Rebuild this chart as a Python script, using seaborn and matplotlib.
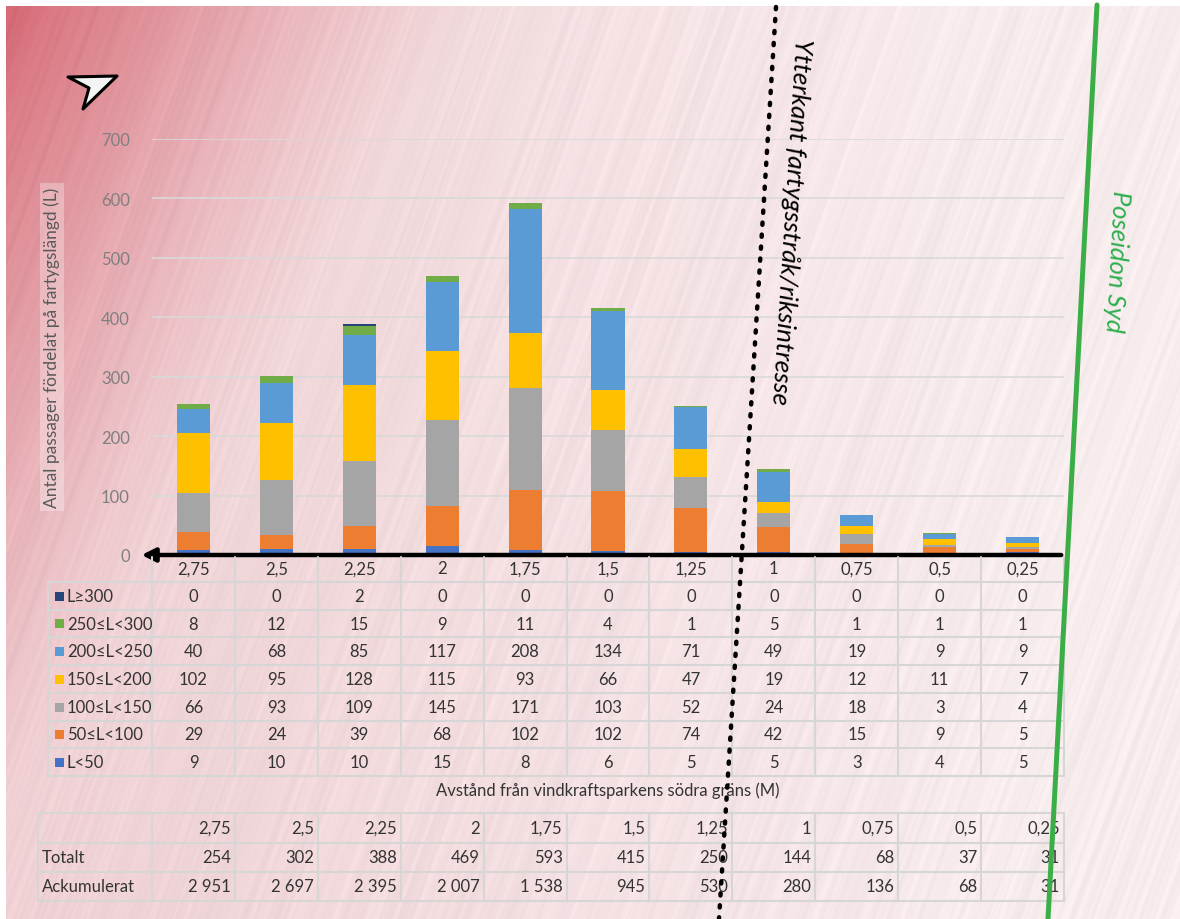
import numpy as np
import matplotlib
matplotlib.use("Agg")
import matplotlib.pyplot as plt
import matplotlib.transforms as mtransforms
from matplotlib.lines import Line2D
from matplotlib.patches import Polygon, Rectangle
import seaborn as sns

W, H = 1180, 920

distances = ["2,75", "2,5", "2,25", "2", "1,75", "1,5", "1,25", "1", "0,75", "0,5", "0,25"]
classes = ["L≥300", "250≤L<300", "200≤L<250", "150≤L<200", "100≤L<150", "50≤L<100", "L<50"]
l_ge300 = [0, 0, 2, 0, 0, 0, 0, 0, 0, 0, 0]
l_250_300 = [8, 12, 15, 9, 11, 4, 1, 5, 1, 1, 1]
l_200_250 = [40, 68, 85, 117, 208, 134, 71, 49, 19, 9, 9]
l_150_200 = [102, 95, 128, 115, 93, 66, 47, 19, 12, 11, 7]
l_100_150 = [66, 93, 109, 145, 171, 103, 52, 24, 18, 3, 4]
l_50_100 = [29, 24, 39, 68, 102, 102, 74, 42, 15, 9, 5]
l_lt50 = [9, 10, 10, 15, 8, 6, 5, 5, 3, 4, 5]
totals = [254, 302, 388, 469, 593, 415, 250, 144, 68, 37, 31]
cumulative = [2951, 2697, 2395, 2007, 1538, 945, 530, 280, 136, 68, 31]
yticks = [0, 100, 200, 300, 400, 500, 600, 700]

series = [l_ge300, l_250_300, l_200_250, l_150_200, l_100_150, l_50_100, l_lt50]
colors = ["#264478", "#70AD47", "#5B9BD5", "#FFC000", "#A5A5A5", "#ED7D31", "#4472C4"]

sns.set_theme(style="white")
plt.rcParams["font.family"] = ["Lato", "DejaVu Sans"]

fig = plt.figure(figsize=(W / 100, H / 100), dpi=100)


def px(x, y):
    return x / W, 1 - y / H


# background: pink map wash, red towards the top-left corner, with faint streaks
bg = fig.add_axes([0, 0, 1, 1], zorder=-10)
yy, xx = np.mgrid[0:1:H * 1j, 0:1:W * 1j]
white = np.array([249, 241, 241]) / 255
pink = np.array([239, 206, 210]) / 255
red = np.array([214, 104, 116]) / 255
a = np.clip(1 - xx * 1.15, 0, 1) * 0.8 + 0.12
w = np.clip(1 - (xx + 0.45 * yy) / 0.42, 0, 1) ** 1.3
img = white * (1 - a[..., None]) + pink * a[..., None]
img = img * (1 - w[..., None]) + red * w[..., None]
rng = np.random.default_rng(7)
s = (xx * W + 0.36 * yy * H).astype(int)
streak = np.convolve(rng.normal(0, 1, s.max() + 8), np.ones(4) / 2, mode="same")
tex = np.clip(streak[s], -2.5, 2.5) * 0.009
img = np.clip(img + tex[..., None], 0, 1)
img[:7, :, :] = 1
img[:, :6, :] = 1
bg.imshow(img, aspect="auto", extent=[0, 1, 0, 1], origin="upper", interpolation="bilinear")
bg.axis("off")

ax = fig.add_axes([152 / W, 1 - 556 / H, (1064 - 152) / W, (556 - 140) / H])
ax.patch.set_alpha(0)

bottom = np.zeros(len(distances))
for name, vals, col in reversed(list(zip(classes, series, colors))):
    sns.barplot(x=distances, y=vals, order=distances, color=col, saturation=1,
                width=0.4, bottom=bottom, errorbar=None, linewidth=0, ax=ax)
    bottom = bottom + np.array(vals)

ax.set_xlim(-0.5, len(distances) - 0.5)
ax.set_ylim(0, 700)
ax.set_yticks(yticks)
ax.set_yticklabels([str(t) for t in yticks], color="#7f7f7f", fontsize=12)
ax.tick_params(axis="y", length=0, pad=16)
ax.set_xticks([])
ax.set_xlabel("")
ax.set_ylabel("")
ax.yaxis.grid(True, color="#d9d9d9", lw=1.2)
ax.set_axisbelow(True)
for sp in ax.spines.values():
    sp.set_visible(False)

# x axis line with arrow pointing left
ax.annotate("", xy=(-0.66, 0), xytext=(len(distances) - 0.5, 0),
            arrowprops=dict(arrowstyle="-|>", lw=3.2, color="black", mutation_scale=20),
            annotation_clip=False, zorder=5)

fig.text(52 / W, 1 - 348 / H, "Antal passager fördelat på fartygslängd (L)",
         rotation=90, ha="center", va="center", color="#595959", fontsize=12.5,
         bbox=dict(facecolor="white", alpha=0.3, edgecolor="none", pad=3))

# tables under the chart: x in category units, y in figure fraction
tr = mtransforms.blended_transform_factory(ax.transData, fig.transFigure)
grid_c = "#d6d6d6"
text_c = "#333333"
n = len(distances)
xr = n - 0.5
col_w = 912 / n
legend_left = -0.5 - (152 - 48) / col_w
tot_left = -0.5 - (152 - 38) / col_w

top_rows = [556, 583, 611, 638, 666, 694, 722, 749, 777]
for y in top_rows[1:]:
    fig.add_artist(Line2D([legend_left, xr], [1 - y / H] * 2, transform=tr, color=grid_c, lw=1.5))
for k in range(n + 1):
    fig.add_artist(Line2D([k - 0.5] * 2, [1 - 558 / H, 1 - 777 / H], transform=tr, color=grid_c, lw=1.5))
fig.add_artist(Line2D([legend_left] * 2, [1 - 583 / H, 1 - 777 / H], transform=tr, color=grid_c, lw=1.5))

hy = 1 - (top_rows[0] + top_rows[1]) / 2 / H
for i, d in enumerate(distances):
    fig.text(i, hy, d, transform=tr, ha="center", va="center", fontsize=12, color=text_c)

for r, (name, vals, col) in enumerate(zip(classes, series, colors)):
    yc = 1 - (top_rows[r + 1] + top_rows[r + 2]) / 2 / H
    sq = Rectangle((legend_left + 7 / col_w, yc - 4.5 / H), 9 / col_w, 9 / H,
                   transform=tr, facecolor=col, edgecolor="none")
    fig.add_artist(sq)
    fig.text(legend_left + 19 / col_w, yc, name, transform=tr, ha="left", va="center",
             fontsize=12, color=text_c)
    for i, v in enumerate(vals):
        fig.text(i, yc, str(v), transform=tr, ha="center", va="center", fontsize=12, color=text_c)

fig.text(ax.get_position().x0 + ax.get_position().width / 2, 1 - 791 / H,
         "Avstånd från vindkraftsparkens södra gräns (M)", ha="center", va="center",
         fontsize=12, color=text_c)

bot_rows = [814, 844, 873, 902]
for y in bot_rows:
    fig.add_artist(Line2D([tot_left, xr], [1 - y / H] * 2, transform=tr, color=grid_c, lw=1.5))
for xv in [tot_left] + [k - 0.5 for k in range(n + 1)]:
    fig.add_artist(Line2D([xv] * 2, [1 - 814 / H, 1 - 902 / H], transform=tr, color=grid_c, lw=1.5))

row_labels = ["", "Totalt", "Ackumulerat"]
row_vals = [distances, [str(v) for v in totals], [f"{v:,}".replace(",", " ") for v in cumulative]]
for r in range(3):
    yc = 1 - (bot_rows[r] + bot_rows[r + 1]) / 2 / H
    fig.text(tot_left + 4 / col_w, yc, row_labels[r], transform=tr, ha="left", va="center",
             fontsize=12, color=text_c)
    for i, t in enumerate(row_vals[r]):
        fig.text(i + 0.5 - 4 / col_w, yc, t, transform=tr, ha="right", va="center",
                 fontsize=12, color=text_c)

# map overlays: fairway edge (dotted) and Poseidon Syd boundary (green)
fig.add_artist(Line2D([776 / W, 719 / W], [1 - 8 / H, 1 - 920 / H], color="black", lw=3.2,
                      linestyle=(0, (0.5, 2.2)), dash_capstyle="round", zorder=10))
fig.add_artist(Line2D([1097 / W, 1048 / W], [1 - 6 / H, 1 - 920 / H], color="#3cae48", lw=3.6,
                      zorder=10))
fig.text(791 / W, 1 - 222 / H, "Ytterkant fartygsstråk/riksintresse", rotation=-93.6,
         rotation_mode="anchor", ha="center", va="center", fontsize=18.5, style="italic",
         color="black", zorder=11)
fig.text(1117 / W, 1 - 262 / H, "Poseidon Syd", rotation=-93, rotation_mode="anchor",
         ha="center", va="center", fontsize=18.5, style="italic", color="#2eae4f", zorder=11)

# north arrow icon
arrow_pts = [px(68, 78), px(117, 77), px(83, 110), px(89, 89)]
fig.add_artist(Polygon(arrow_pts, closed=True, transform=fig.transFigure,
                       facecolor="#f4f4f4", edgecolor="black", lw=2.2, joinstyle="round"))

fig.savefig("out.png", dpi=100)
